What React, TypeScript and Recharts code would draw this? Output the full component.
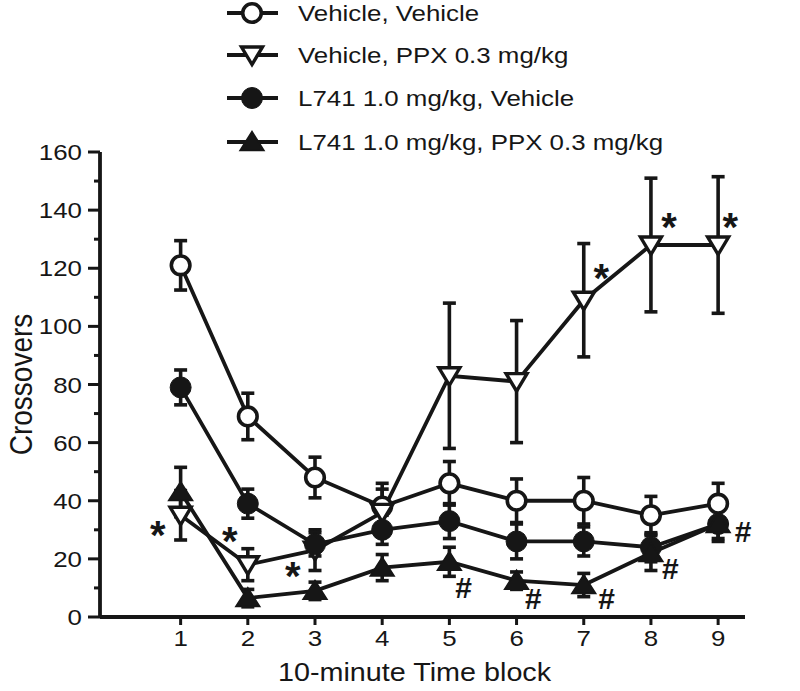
import { ComposedChart, Line, XAxis, YAxis, ErrorBar, ReferenceDot, Legend } from 'recharts';

const blocks = [1, 2, 3, 4, 5, 6, 7, 8, 9];

const vehVeh = [121, 69, 48, 38, 46, 40, 40, 35, 39];
const vehVehSem = [8.5, 8, 7, 8, 7.5, 7.5, 8, 6.5, 7];
const vehPpx = [35, 18, 23, 36, 83, 81, 109, 128, 128];
const vehPpxSem = [8.5, 5.5, 7, 8, 25, 21, 19.5, 23, 23.5];
const l741Veh = [79, 39, 25, 30, 33, 26, 26, 24, 32];
const l741VehSem = [6, 5, 4, 5, 6, 6, 5, 5, 5];
const l741Ppx = [43, 6.5, 9, 17, 19, 12.5, 11, 22, 32];
const l741PpxSem = [8.5, 3, 3, 4.5, 5, 3, 4, 6, 6];

const yTicks = [0, 10, 20, 30, 40, 50, 60, 70, 80, 90, 100, 110, 120, 130, 140, 150, 160];

// significance marks, in data units
const marks = [
  { x: 0.66, y: 31, text: '*' },
  { x: 1.73, y: 29, text: '*' },
  { x: 2.67, y: 17, text: '*' },
  { x: 7.26, y: 119.5, text: '*' },
  { x: 8.27, y: 137, text: '*' },
  { x: 9.18, y: 137, text: '*' },
  { x: 5.21, y: 10.4, text: '#' },
  { x: 6.25, y: 6.4, text: '#' },
  { x: 7.34, y: 6.4, text: '#' },
  { x: 8.29, y: 16.8, text: '#' },
  { x: 9.37, y: 29.4, text: '#' },
];

const legendItems = [
  { key: 'vehVeh', label: 'Vehicle, Vehicle', shape: 'openCircle' },
  { key: 'vehPpx', label: 'Vehicle, PPX 0.3 mg/kg', shape: 'openTriangle' },
  { key: 'l741Veh', label: 'L741 1.0 mg/kg, Vehicle', shape: 'filledCircle' },
  { key: 'l741Ppx', label: 'L741 1.0 mg/kg, PPX 0.3 mg/kg', shape: 'filledTriangle' },
];

const chartData = blocks.map((b, i) => ({
  block: b,
  vehVeh: vehVeh[i],
  vehVehErr: vehVehSem[i],
  vehPpx: vehPpx[i],
  vehPpxErr: vehPpxSem[i],
  l741Veh: l741Veh[i],
  l741VehErr: l741VehSem[i],
  l741Ppx: l741Ppx[i],
  l741PpxErr: l741PpxSem[i],
}));

const INK = '#161616';
const FONT = '"Liberation Sans", Arial, Helvetica, sans-serif';
const STRETCH = 1.15;
const SW = 3.8;

function Marker({ shape, cx, cy }: { shape: string; cx: number; cy: number }) {
  if (shape === 'openCircle') {
    return <circle cx={cx} cy={cy} r={9.3} fill="#fff" stroke={INK} strokeWidth={3.6} />;
  }
  if (shape === 'filledCircle') {
    return <circle cx={cx} cy={cy} r={10.5} fill={INK} stroke={INK} strokeWidth={1} />;
  }
  if (shape === 'openTriangle') {
    const pts = `${cx - 10.5},${cy - 8} ${cx + 10.5},${cy - 8} ${cx},${cy + 9.5}`;
    return <polygon points={pts} fill="#fff" stroke={INK} strokeWidth={3.4} strokeLinejoin="miter" />;
  }
  const pts = `${cx - 12},${cy + 8.5} ${cx + 12},${cy + 8.5} ${cx},${cy - 10.5}`;
  return <polygon points={pts} fill={INK} stroke={INK} strokeWidth={1.5} />;
}

const makeDot = (shape: string) => (p: any) => {
  if (p.cx == null || p.cy == null) return <g key={p.index} />;
  return <Marker key={p.index} shape={shape} cx={p.cx} cy={p.cy} />;
};

function StretchText({ x, y, anchor, size, children }: any) {
  return (
    <g transform={`translate(${x},${y}) scale(${STRETCH},1)`}>
      <text x={0} y={0} textAnchor={anchor} fontFamily={FONT} fontSize={size} fill={INK}>
        {children}
      </text>
    </g>
  );
}

function YTick({ x, y, payload }: any) {
  const major = payload.value % 20 === 0;
  return (
    <g>
      <line x1={x - (major ? 12 : 6)} y1={y} x2={x} y2={y} stroke={INK} strokeWidth={3} />
      {major && (
        <StretchText x={x - 18} y={y + 8} anchor="end" size={22.5}>
          {payload.value}
        </StretchText>
      )}
    </g>
  );
}

function XTick({ x, y, payload }: any) {
  return (
    <g>
      <line x1={x} y1={y} x2={x} y2={y + 8} stroke={INK} strokeWidth={3} />
      <StretchText x={x} y={y + 29} anchor="middle" size={22.5}>
        {payload.value}
      </StretchText>
    </g>
  );
}

function YLabel({ viewBox }: any) {
  const cy = viewBox.y + viewBox.height / 2;
  return (
    <g transform={`translate(${viewBox.x + 32},${cy}) rotate(-90) scale(1,1.1)`}>
      <text x={0} y={0} textAnchor="middle" fontFamily={FONT} fontSize={28} fill={INK}>
        Crossovers
      </text>
    </g>
  );
}

function XLabel({ viewBox }: any) {
  const cx = viewBox.x + viewBox.width / 2 - 8;
  return (
    <StretchText x={cx} y={viewBox.y + 64} anchor="middle" size={25}>
      10-minute Time block
    </StretchText>
  );
}

function MarkShape(p: any) {
  const isStar = p.text === '*';
  const size = isStar ? 40 : 30;
  const off = isStar ? size * 0.56 : size * 0.36;
  return (
    <text
      x={p.cx}
      y={p.cy + off}
      textAnchor="middle"
      fontFamily={FONT}
      fontWeight="bold"
      fontSize={size}
      fill={INK}
    >
      {p.text}
    </text>
  );
}

function LegendBox() {
  const rows = [13, 55, 98, 142];
  return (
    <svg width={800} height={160}>
      {legendItems.map((item, i) => (
        <g key={item.key}>
          <line x1={227} y1={rows[i]} x2={278} y2={rows[i]} stroke={INK} strokeWidth={SW} />
          <Marker shape={item.shape} cx={252} cy={rows[i]} />
          <StretchText x={298} y={rows[i] + 8} anchor="start" size={22.5}>
            {item.label}
          </StretchText>
        </g>
      ))}
    </svg>
  );
}

export default function App() {
  return (
    <div style={{ position: 'absolute', left: 0, top: 0, background: '#fff' }}>
      <ComposedChart
        width={800}
        height={691}
        data={chartData}
        margin={{ top: 152, right: 55, bottom: 0, left: 0 }}
      >
        <Legend
          layout="vertical"
          align="center"
          verticalAlign="middle"
          wrapperStyle={{ top: 0, left: 0, width: 800, height: 160 }}
          content={() => <LegendBox />}
        />
        <XAxis
          dataKey="block"
          type="number"
          domain={[-0.2, 9.4]}
          ticks={blocks}
          height={74}
          axisLine={{ stroke: INK, strokeWidth: 3.8 }}
          tickLine={false}
          tickSize={0}
          tickMargin={0}
          tick={<XTick />}
          label={<XLabel />}
        />
        <YAxis
          type="number"
          domain={[0, 160]}
          ticks={yTicks}
          interval={0}
          width={100}
          axisLine={{ stroke: INK, strokeWidth: 3.8 }}
          tickLine={false}
          tickSize={0}
          tickMargin={0}
          tick={<YTick />}
          label={<YLabel />}
        />
        <Line
          dataKey="vehVeh"
          stroke={INK}
          strokeWidth={SW}
          dot={makeDot('openCircle')}
          activeDot={false}
          isAnimationActive={false}
        >
          <ErrorBar dataKey="vehVehErr" width={6.5} stroke={INK} strokeWidth={3.6} direction="y" />
        </Line>
        <Line
          dataKey="vehPpx"
          stroke={INK}
          strokeWidth={SW}
          dot={makeDot('openTriangle')}
          activeDot={false}
          isAnimationActive={false}
        >
          <ErrorBar dataKey="vehPpxErr" width={6.5} stroke={INK} strokeWidth={3.6} direction="y" />
        </Line>
        <Line
          dataKey="l741Veh"
          stroke={INK}
          strokeWidth={SW}
          dot={makeDot('filledCircle')}
          activeDot={false}
          isAnimationActive={false}
        >
          <ErrorBar dataKey="l741VehErr" width={6.5} stroke={INK} strokeWidth={3.6} direction="y" />
        </Line>
        <Line
          dataKey="l741Ppx"
          stroke={INK}
          strokeWidth={SW}
          dot={makeDot('filledTriangle')}
          activeDot={false}
          isAnimationActive={false}
        >
          <ErrorBar dataKey="l741PpxErr" width={6.5} stroke={INK} strokeWidth={3.6} direction="y" />
        </Line>
        {marks.map((m, i) => (
          <ReferenceDot
            key={i}
            x={m.x}
            y={m.y}
            r={0}
            ifOverflow="visible"
            shape={(p: any) => <MarkShape {...p} text={m.text} />}
          />
        ))}
      </ComposedChart>
    </div>
  );
}
